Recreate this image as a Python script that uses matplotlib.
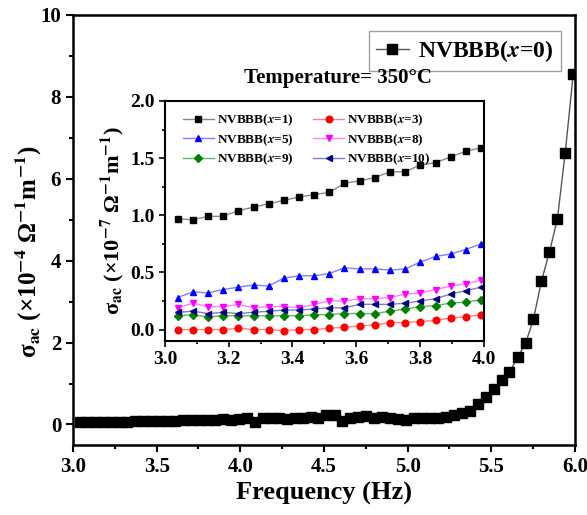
import numpy as np
import matplotlib
matplotlib.use("Agg")
import matplotlib.pyplot as plt
from matplotlib.ticker import MultipleLocator

plt.rcParams['font.family'] = ['Liberation Serif', 'DejaVu Serif']
plt.rcParams['font.weight'] = 'bold'
plt.rcParams['mathtext.fontset'] = 'stix'

# log10 frequency grid
freq = [3.040, 3.088, 3.135, 3.183, 3.230, 3.278, 3.325, 3.373, 3.421, 3.468,
        3.516, 3.563, 3.611, 3.659, 3.706, 3.754, 3.801, 3.849, 3.896, 3.944,
        3.992, 4.039, 4.087, 4.134, 4.182, 4.229, 4.277, 4.325, 4.372, 4.420,
        4.467, 4.515, 4.563, 4.610, 4.658, 4.705, 4.753, 4.800, 4.848, 4.896,
        4.943, 4.991, 5.038, 5.086, 5.134, 5.181, 5.229, 5.276, 5.324, 5.371,
        5.419, 5.467, 5.514, 5.562, 5.609, 5.657, 5.705, 5.752, 5.800, 5.847,
        5.895, 5.942, 5.990]

# sigma_ac of x=0, units 1e-4 S/m
sig_x0 = [0.06, 0.06, 0.06, 0.07, 0.07, 0.07, 0.07, 0.08, 0.08, 0.08,
          0.08, 0.09, 0.09, 0.10, 0.10, 0.10, 0.11, 0.11, 0.14, 0.10,
          0.14, 0.15, 0.06, 0.16, 0.15, 0.17, 0.13, 0.17, 0.16, 0.18,
          0.17, 0.22, 0.24, 0.09, 0.17, 0.18, 0.20, 0.16, 0.19, 0.17,
          0.13, 0.12, 0.17, 0.16, 0.15, 0.17, 0.19, 0.22, 0.27, 0.33,
          0.49, 0.66, 0.86, 1.08, 1.27, 1.64, 1.98, 2.57, 3.50, 4.20,
          5.01, 6.63, 8.56]

# inset, units 1e-7 S/m
freq_in = freq[:21]
sig_x1 = [0.97, 0.96, 0.99, 0.99, 1.04, 1.07, 1.10, 1.13, 1.16, 1.18,
          1.20, 1.28, 1.30, 1.33, 1.38, 1.38, 1.44, 1.46, 1.51, 1.56, 1.59]
sig_x3 = [0.00, 0.00, 0.00, 0.00, 0.01, 0.00, 0.00, -0.01, 0.00, 0.00,
          0.01, 0.02, 0.03, 0.04, 0.06, 0.06, 0.07, 0.08, 0.10, 0.11, 0.13]
sig_x5 = [0.28, 0.33, 0.32, 0.35, 0.37, 0.39, 0.38, 0.45, 0.47, 0.47,
          0.49, 0.54, 0.53, 0.53, 0.52, 0.53, 0.59, 0.64, 0.66, 0.70, 0.75]
sig_x8 = [0.19, 0.23, 0.20, 0.20, 0.22, 0.19, 0.20, 0.20, 0.19, 0.22,
          0.25, 0.25, 0.27, 0.27, 0.28, 0.31, 0.32, 0.35, 0.38, 0.40, 0.43]
sig_x9 = [0.12, 0.13, 0.11, 0.12, 0.12, 0.12, 0.12, 0.12, 0.12, 0.13,
          0.13, 0.14, 0.14, 0.14, 0.16, 0.18, 0.20, 0.21, 0.23, 0.24, 0.26]
sig_x10 = [0.15, 0.16, 0.14, 0.15, 0.14, 0.15, 0.16, 0.17, 0.17, 0.18,
           0.19, 0.19, 0.22, 0.22, 0.22, 0.23, 0.25, 0.27, 0.31, 0.34, 0.37]

fig = plt.figure(figsize=(5.87, 5.15), dpi=100)
ax = fig.add_axes([0.1244, 0.136, 0.855, 0.835])

ax.plot(freq, sig_x0, color='#555555', lw=1, marker='s', ms=7,
        mfc='black', mec='black', label=r'NVBBB($\mathit{x}$=0)')
ax.set_xlim(3.0, 6.0)
ax.set_ylim(-0.5, 10)
ax.xaxis.set_major_locator(MultipleLocator(0.5))
ax.xaxis.set_minor_locator(MultipleLocator(0.25))
ax.yaxis.set_major_locator(MultipleLocator(2))
ax.yaxis.set_minor_locator(MultipleLocator(1))
ax.tick_params(which='both', direction='out', top=False, right=False,
               labelsize=15, width=1.5)
ax.tick_params(which='major', length=5)
ax.tick_params(which='minor', length=3)
for s in ax.spines.values():
    s.set_linewidth(1.8)
ax.set_xlabel('Frequency (Hz)', fontsize=19, fontweight='bold')
# y label, slightly below centre like the original
ax.set_ylabel('σ$_{\\mathrm{ac}}$ (×10$^{-4}$ Ω$^{-1}$m$^{-1}$)',
              fontsize=18, fontweight='bold')
ax.yaxis.set_label_coords(-0.058, 0.45)
leg = ax.legend(loc='upper right', fontsize=17, frameon=True, fancybox=False,
                handlelength=1.4, handletextpad=0.4, borderpad=0.3,
                bbox_to_anchor=(0.995, 0.99))
leg.get_frame().set_edgecolor('#888888')
leg.get_frame().set_linewidth(1.0)

fig.text(0.576, 0.849, 'Temperature= 350°C', fontsize=15, fontweight='bold',
         ha='center', va='center')

ins = fig.add_axes([0.281, 0.338, 0.543, 0.466])
series = [
    (sig_x1, 's', 'black', '#888888', '1'),
    (sig_x5, '^', '#0000FF', '#7f7fff', '5'),
    (sig_x9, 'D', '#008000', '#66b366', '9'),
    (sig_x3, 'o', '#FF0000', '#ff8080', '3'),
    (sig_x8, 'v', '#FF00FF', '#ff80ff', '8'),
    (sig_x10, '<', '#000080', '#7f7fc0', '10'),
]
for vals, mk, c, lc, lab in series:
    ms = 4.0 if mk == 'D' else 4.8
    ins.plot(freq_in, vals, color=lc, lw=1, marker=mk, ms=ms, mfc=c, mec=c,
             label=r'NVBBB($\mathit{x}$=' + lab + ')')
ins.set_xlim(3.0, 4.0)
ins.set_ylim(-0.1, 2.0)
ins.xaxis.set_major_locator(MultipleLocator(0.2))
ins.xaxis.set_minor_locator(MultipleLocator(0.1))
ins.yaxis.set_major_locator(MultipleLocator(0.5))
ins.yaxis.set_minor_locator(MultipleLocator(0.25))
ins.tick_params(which='both', direction='out', top=False, right=False,
                labelsize=14, width=1.2)
ins.tick_params(which='major', length=4)
ins.tick_params(which='minor', length=2.5)
for s in ins.spines.values():
    s.set_linewidth(1.5)
ins.set_ylabel('σ$_{\\mathrm{ac}}$ (×10$^{-7}$ Ω$^{-1}$m$^{-1}$)',
               fontsize=16, fontweight='bold', labelpad=3)
ins.legend(loc='upper left', ncol=2, fontsize=9.5, frameon=False,
           handlelength=2.3, handletextpad=0.25, columnspacing=1.5,
           labelspacing=0.3, bbox_to_anchor=(0.02, 1.0))

fig.savefig('out.png', dpi=100)
